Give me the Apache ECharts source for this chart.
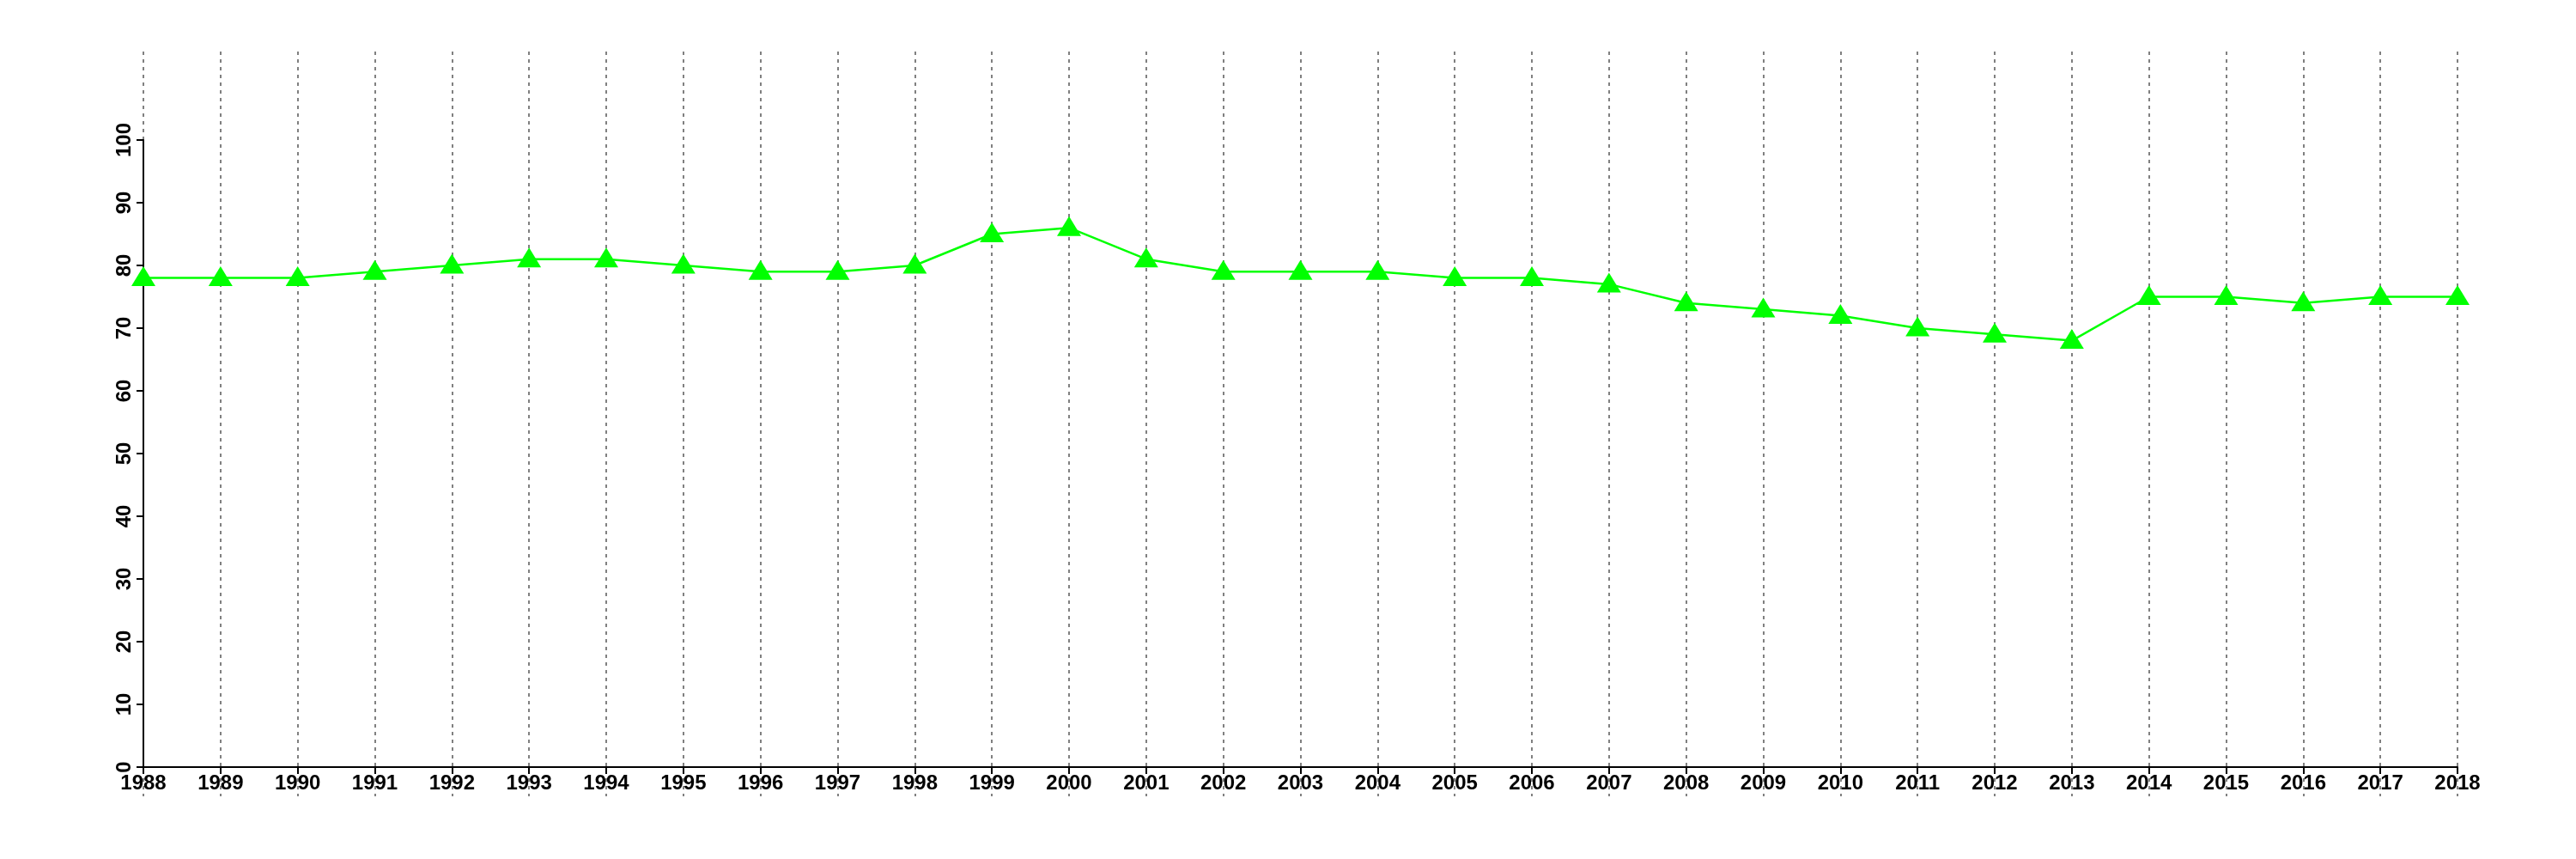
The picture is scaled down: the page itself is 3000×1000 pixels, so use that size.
<!DOCTYPE html>
<html>
<head>
<meta charset="utf-8">
<script src="https://cdn.jsdelivr.net/npm/echarts@6/dist/echarts.min.js"></script>
<style>
html,body{margin:0;padding:0;background:#fff;}
#chart{width:3000px;height:1000px;}
</style>
</head>
<body>
<div id="chart"></div>
<script>
const years = ['1988','1989','1990','1991','1992','1993','1994','1995','1996','1997','1998','1999','2000','2001','2002','2003','2004','2005','2006','2007','2008','2009','2010','2011','2012','2013','2014','2015','2016','2017','2018'];
const values = [78,78,78,79,80,81,81,80,79,79,80,85,86,81,79,79,79,78,78,77,74,73,72,70,69,68,75,75,74,75,75];
const yTicks = {min: 0, max: 100, interval: 10};

const chart = echarts.init(document.getElementById('chart'));
const font = {fontFamily: 'Liberation Sans, Arial, sans-serif', fontSize: 24, fontWeight: 'bold', color: '#000'};
chart.setOption({
  animation: false,
  backgroundColor: '#fff',
  grid: [
    {left: 167, right: 138, top: 163, bottom: 107, containLabel: false},
    {left: 167, right: 138, top: 60, bottom: 73, containLabel: false}
  ],
  xAxis: [
    {
      gridIndex: 0, type: 'category', data: years, boundaryGap: false,
      axisLine: {show: true, lineStyle: {color: '#000', width: 2}},
      axisTick: {show: true, length: 8, lineStyle: {color: '#000', width: 2}},
      axisLabel: Object.assign({margin: 7, interval: 0}, font),
      splitLine: {show: false}
    },
    {
      gridIndex: 1, type: 'category', data: years, boundaryGap: false,
      axisLine: {show: false}, axisTick: {show: false}, axisLabel: {show: false},
      splitLine: {show: true, lineStyle: {color: '#808080', width: 2, type: [4, 5]}}
    }
  ],
  yAxis: [
    {
      gridIndex: 0, type: 'value', min: yTicks.min, max: yTicks.max, interval: yTicks.interval,
      axisLine: {show: true, lineStyle: {color: '#000', width: 2}},
      axisTick: {show: true, length: 8, lineStyle: {color: '#000', width: 2}},
      axisLabel: Object.assign({margin: 10, rotate: 90}, font),
      splitLine: {show: false}
    },
    {
      gridIndex: 1, type: 'value', min: 0, max: 1, show: false,
      splitLine: {show: false}
    }
  ],
  series: [
    {
      type: 'line', xAxisIndex: 0, yAxisIndex: 0, data: values,
      symbol: 'triangle', symbolSize: [28, 23], symbolOffset: [0, -2],
      itemStyle: {color: '#00ff00'},
      lineStyle: {color: '#00ff00', width: 2.5},
      z: 5
    }
  ]
});
</script>
</body>
</html>
